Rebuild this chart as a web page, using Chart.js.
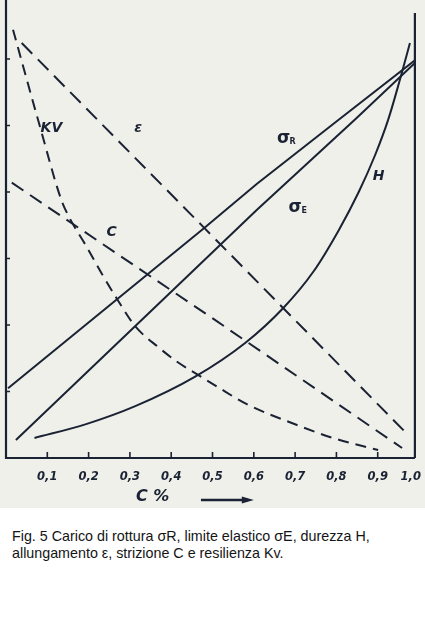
<!DOCTYPE html>
<html>
<head>
<meta charset="utf-8">
<script src="https://cdn.jsdelivr.net/npm/chart.js@4/dist/chart.umd.min.js"></script>
<style>
  html, body { margin: 0; padding: 0; background: #ffffff; }
  #wrap { position: relative; width: 425px; height: 508px; }
  #caption { font-family: "Liberation Sans", Arial, Helvetica, sans-serif; font-size: 14.3px; line-height: 17px; color: #141414; margin: 20px 0 0 12px; width: 412px; }
</style>
</head>
<body>
<div id="wrap"><canvas id="c" width="425" height="508"></canvas></div>
<div id="caption">Fig. 5 Carico di rottura σR, limite elastico σE, durezza H,<br>allungamento ε, strizione C e resilienza Kv.</div>
<script>
// ---- data (C% on x, property in relative units on y) ----
const cTicks      = [0.1, 0.2, 0.3, 0.4, 0.5, 0.6, 0.7, 0.8, 0.9, 0.98];
const tickLabels  = ["0,1", "0,2", "0,3", "0,4", "0,5", "0,6", "0,7", "0,8", "0,9", "1,0"];
const yTicks      = [1, 2, 3, 4, 5, 6];

const sigmaR_x = [0.005, 0.48, 0.607, 0.80, 0.99];
const sigmaR_y = [1.05, 3.46, 4.12, 5.06, 5.98];

const sigmaE_x = [0.024, 0.40, 0.607, 0.847, 0.99];
const sigmaE_y = [0.27, 2.50, 3.73, 5.10, 5.94];

const H_x = [0.069, 0.194, 0.313, 0.457, 0.579, 0.672, 0.744, 0.806, 0.854, 0.894, 0.925, 0.952, 0.978];
const H_y = [0.30, 0.51, 0.78, 1.22, 1.73, 2.26, 2.80, 3.43, 4.00, 4.56, 5.08, 5.65, 6.24];

const eps_x = [0.038, 0.48, 0.973];
const eps_y = [6.24, 3.46, 0.35];

const C_x = [0.014, 0.505, 0.959];
const C_y = [4.14, 2.08, 0.15];

const KV_x = [0.017, 0.081, 0.134, 0.153, 0.194, 0.232, 0.273, 0.313, 0.368, 0.416, 0.457, 0.512, 0.583, 0.703, 0.782, 0.863, 0.901];
const KV_y = [6.44, 5.01, 3.88, 3.62, 3.19, 2.77, 2.35, 1.98, 1.67, 1.44, 1.28, 1.07, 0.81, 0.50, 0.32, 0.18, 0.12];

// curve labels: [text, subscript, x, y]
const curveLabels = [
  ["KV", "", 0.110, 4.96],
  ["ε", "", 0.320, 4.96],
  ["σ", "R", 0.672, 4.80],
  ["σ", "E", 0.700, 3.76],
  ["H", "", 0.902, 4.23],
  ["C", "", 0.256, 3.40]
];

const INK = "#1b2233";
const pts = (xs, ys) => xs.map((x, i) => ({ x: x, y: ys[i] }));

const decor = {
  id: "decor",
  beforeDraw(chart) {
    const ctx = chart.ctx;
    ctx.save();
    ctx.fillStyle = "#eef0e9";
    ctx.fillRect(0, 0, chart.width, chart.height);
    ctx.restore();
  },
  afterDraw(chart) {
    const ctx = chart.ctx, a = chart.chartArea;
    const xs = chart.scales.x, ys = chart.scales.y;
    ctx.save();
    ctx.strokeStyle = INK;
    ctx.lineCap = "butt";
    // frame
    ctx.lineWidth = 2.2;
    ctx.beginPath();
    ctx.moveTo(a.left, a.top); ctx.lineTo(a.left, a.bottom); ctx.lineTo(a.right, a.bottom);
    ctx.moveTo(a.right, a.top + 13); ctx.lineTo(a.right, a.bottom);
    ctx.stroke();
    // inward tick marks
    ctx.lineWidth = 1.6;
    ctx.beginPath();
    cTicks.slice(0, 9).forEach(v => {
      const px = xs.getPixelForValue(v);
      ctx.moveTo(px, a.bottom); ctx.lineTo(px, a.bottom - 6);
    });
    yTicks.forEach(v => {
      const py = ys.getPixelForValue(v);
      ctx.moveTo(a.left, py); ctx.lineTo(a.left + 4, py);
    });
    ctx.stroke();
    // curve labels
    ctx.fillStyle = INK;
    ctx.textAlign = "center";
    ctx.textBaseline = "middle";
    curveLabels.forEach(([t, sub, x, y]) => {
      const px = xs.getPixelForValue(x), py = ys.getPixelForValue(y);
      ctx.font = (t === "σ" ? "bold 17px 'DejaVu Sans'" : "italic bold 14px 'DejaVu Sans'");
      ctx.fillText(t, px, py);
      if (sub) {
        ctx.font = "bold 8px 'DejaVu Sans'";
        ctx.fillText(sub, px + 9, py + 3);
      }
    });
    // axis title and arrow
    ctx.font = "italic bold 16px 'DejaVu Sans'";
    ctx.fillText("C %", xs.getPixelForValue(0.355), a.bottom + 39);
    const x1 = xs.getPixelForValue(0.472), x2 = xs.getPixelForValue(0.600), ya = a.bottom + 42;
    ctx.lineWidth = 2.6;
    ctx.beginPath(); ctx.moveTo(x1, ya); ctx.lineTo(x2 - 6, ya); ctx.stroke();
    ctx.beginPath(); ctx.moveTo(x2, ya); ctx.lineTo(x2 - 12, ya - 3.5); ctx.lineTo(x2 - 12, ya + 3.5); ctx.closePath(); ctx.fill();
    ctx.restore();
  }
};

const line = (label, data, dash, smooth) => ({
  label, data, borderColor: INK, borderWidth: 2, pointRadius: 0, fill: false,
  borderDash: dash, tension: smooth ? 0.4 : 0,
  cubicInterpolationMode: smooth ? "monotone" : "default"
});

new Chart(document.getElementById("c"), {
  type: "line",
  data: {
    datasets: [
      line("σR", pts(sigmaR_x, sigmaR_y), [], false),
      line("σE", pts(sigmaE_x, sigmaE_y), [], false),
      line("H", pts(H_x, H_y), [], true),
      line("ε", pts(eps_x, eps_y), [15, 8], false),
      line("C", pts(C_x, C_y), [14, 8], false),
      line("KV", pts(KV_x, KV_y), [11, 7], true)
    ]
  },
  options: {
    responsive: false,
    animation: false,
    layout: { padding: { top: 0, right: 5, left: 0, bottom: 0 } },
    plugins: { legend: { display: false }, tooltip: { enabled: false }, title: { display: false } },
    scales: {
      x: {
        type: "linear", min: 0, max: 0.99,
        grid: { display: false }, border: { display: false },
        afterBuildTicks: s => { s.ticks = cTicks.map(v => ({ value: v })); },
        afterFit: s => { s.height = 50; },
        ticks: {
          autoSkip: false, maxRotation: 0, padding: 4, color: INK,
          font: { family: "'DejaVu Sans'", style: "italic", weight: "bold", size: 11.5 },
          callback: (v, i) => tickLabels[i]
        }
      },
      y: {
        type: "linear", min: 0, max: 6.887,
        grid: { display: false }, border: { display: false },
        ticks: { display: false },
        afterBuildTicks: s => { s.ticks = yTicks.map(v => ({ value: v })); },
        afterFit: s => { s.width = 6; }
      }
    }
  },
  plugins: [decor]
});
</script>
</body>
</html>
